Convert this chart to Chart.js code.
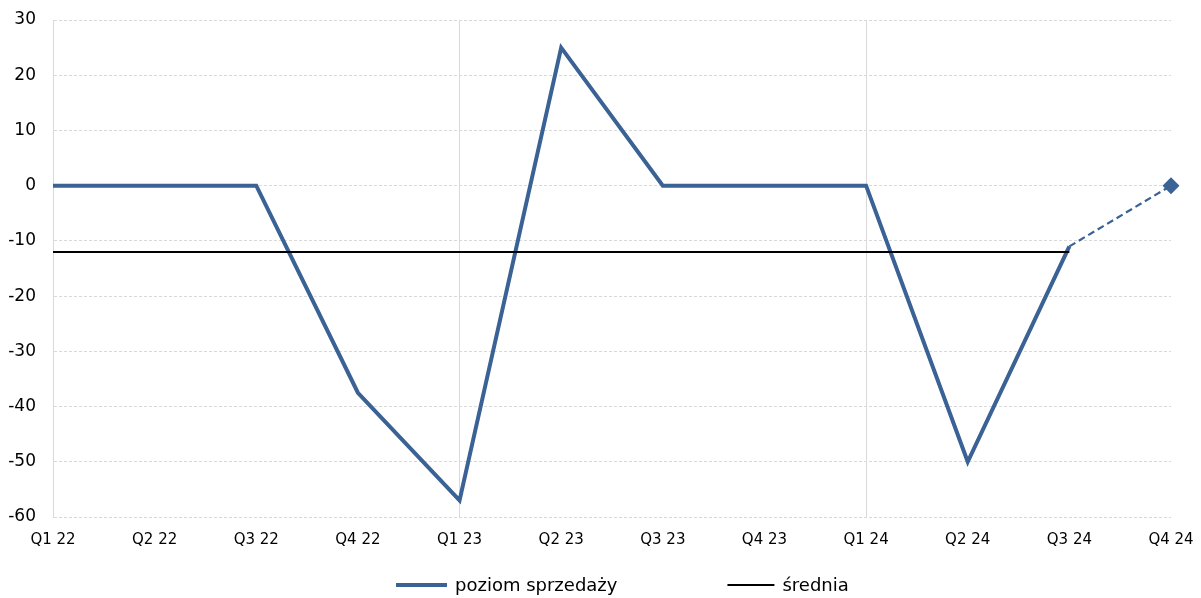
<!DOCTYPE html>
<html>
<head>
<meta charset="utf-8">
<script src="https://cdn.jsdelivr.net/npm/chart.js@4/dist/chart.umd.min.js"></script>
<style>
  html, body { margin: 0; padding: 0; background: #ffffff; }
  #wrap { width: 1201px; height: 598px; }
</style>
</head>
<body>
<div id="wrap"><canvas id="chart" width="1201" height="598"></canvas></div>
<script>
// Quarterly sales level index
const quarters = ['Q1 22', 'Q2 22', 'Q3 22', 'Q4 22', 'Q1 23', 'Q2 23', 'Q3 23', 'Q4 23', 'Q1 24', 'Q2 24', 'Q3 24', 'Q4 24'];
const salesLevel = [0, 0, 0, -37.5, -57, 25, 0, 0, 0, -50, -11];
const salesForecast = 0;          // Q4 24 projection
const averageLevel = -12;         // mean of the observed quarters
const yTicks = [-60, -50, -40, -30, -20, -10, 0, 10, 20, 30];

const BLUE = '#3A6294';
const GRID = '#D9D9D9';
const FONT = 'DejaVu Sans';

// Series built from the arrays above
const actualSeries = quarters.map((q, i) => i < salesLevel.length ? salesLevel[i] : null);
const forecastSeries = quarters.map((q, i) => {
  if (i === salesLevel.length - 1) return salesLevel[i];
  if (i === salesLevel.length) return salesForecast;
  return null;
});
const averageSeries = quarters.map((q, i) => i < salesLevel.length ? averageLevel : null);
const forecastRadius = quarters.map((q, i) => i === salesLevel.length ? 8.5 : 0);

// Year separators on the category axis
const yearStarts = quarters.map(q => q.startsWith('Q1') && q !== quarters[0]);

// Line-sample legend drawn under the plot
const lineLegend = {
  id: 'lineLegend',
  afterDraw(chart, args, opts) {
    const ctx = chart.ctx;
    ctx.save();
    ctx.font = opts.fontSize + 'px "' + FONT + '"';
    ctx.textBaseline = 'middle';
    ctx.textAlign = 'left';
    let x = opts.x;
    const y = opts.y;
    opts.items.forEach((idx, k) => {
      const ds = chart.data.datasets[idx];
      const len = opts.lineLengths[k];
      ctx.strokeStyle = ds.borderColor;
      ctx.lineWidth = ds.borderWidth;
      ctx.lineCap = 'butt';
      ctx.beginPath();
      ctx.moveTo(x, y);
      ctx.lineTo(x + len, y);
      ctx.stroke();
      x += len + opts.textGap;
      ctx.fillStyle = opts.color;
      ctx.fillText(ds.label, x, y + 1);
      x += ctx.measureText(ds.label).width + opts.itemGap;
    });
    ctx.restore();
  }
};

new Chart(document.getElementById('chart'), {
  type: 'line',
  data: {
    labels: quarters,
    datasets: [
      {
        label: 'poziom sprzedaży',
        data: actualSeries,
        borderColor: BLUE,
        backgroundColor: BLUE,
        borderWidth: 4,
        pointRadius: 0,
        tension: 0,
        order: 1
      },
      {
        label: 'prognoza',
        data: forecastSeries,
        borderColor: BLUE,
        backgroundColor: BLUE,
        borderWidth: 2.2,
        borderDash: [7, 4],
        pointStyle: 'rectRot',
        pointRadius: forecastRadius,
        pointBorderWidth: 0,
        tension: 0,
        order: 2
      },
      {
        label: 'średnia',
        data: averageSeries,
        borderColor: '#000000',
        backgroundColor: '#000000',
        borderWidth: 2,
        pointRadius: 0,
        tension: 0,
        order: 0
      }
    ]
  },
  options: {
    responsive: false,
    animation: false,
    events: [],
    layout: { padding: { top: 20, right: 30, bottom: 51, left: 0 } },
    plugins: {
      legend: { display: false },
      tooltip: { enabled: false },
      lineLegend: {
        items: [0, 2],
        lineLengths: [51, 47],
        x: 396,
        y: 585,
        textGap: 8,
        itemGap: 110,
        fontSize: 18,
        color: '#000000'
      }
    },
    scales: {
      x: {
        type: 'category',
        offset: false,
        afterFit(scale) { scale.height = 30; },
        grid: {
          drawTicks: true,
          tickLength: 14,
          tickColor: 'rgba(0,0,0,0)',
          lineWidth: 1,
          color: ctx => (ctx.index !== undefined && yearStarts[ctx.index]) ? GRID : 'rgba(0,0,0,0)'
        },
        border: { display: false },
        ticks: {
          padding: 0,
          maxRotation: 0,
          autoSkip: false,
          color: '#000000',
          font: { family: FONT, size: 15 }
        }
      },
      y: {
        min: -60,
        max: 30,
        afterFit(scale) { scale.width = 53; },
        afterBuildTicks(scale) { scale.ticks = yTicks.map(v => ({ value: v })); },
        grid: {
          drawTicks: true,
          tickLength: 17,
          tickColor: 'rgba(0,0,0,0)',
          color: GRID,
          lineWidth: 1,
          tickBorderDash: [3, 2]
        },
        border: { display: true, color: GRID, dash: [3, 2] },
        ticks: {
          padding: 0,
          color: '#000000',
          font: { family: FONT, size: 17 }
        }
      }
    }
  },
  plugins: [lineLegend]
});
</script>
</body>
</html>
